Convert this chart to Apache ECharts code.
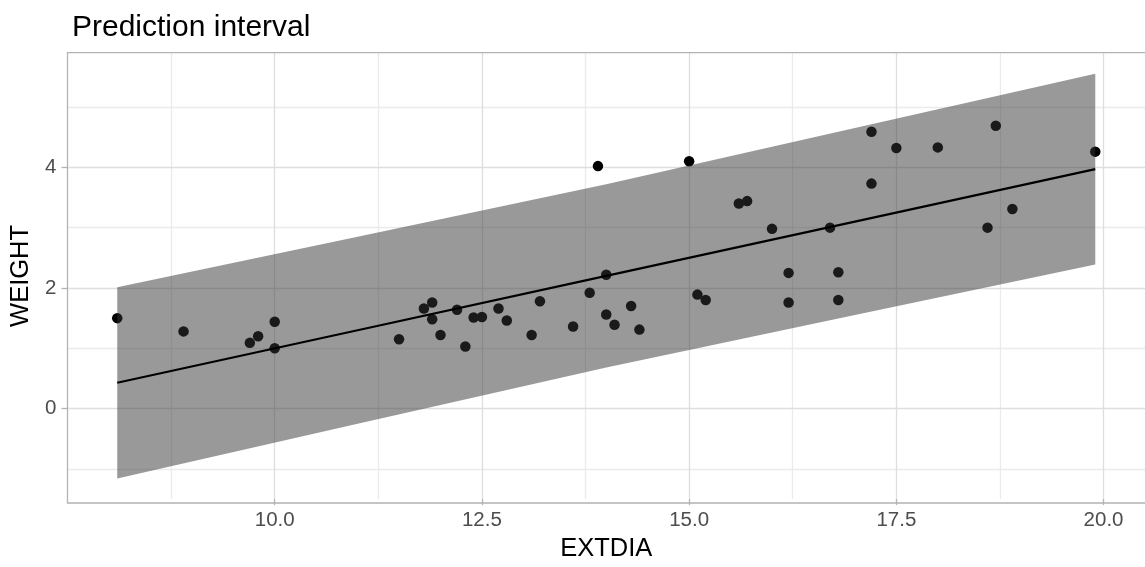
<!DOCTYPE html>
<html>
<head>
<meta charset="utf-8">
<script src="https://cdn.jsdelivr.net/npm/echarts@6/dist/echarts.min.js"></script>
<style>
html,body{margin:0;padding:0;background:#fff;}
#chart{width:1145px;height:567px;}
</style>
</head>
<body>
<div id="chart"></div>
<script>
// ---- data ----
const extdia = [8.1, 8.9, 9.7, 9.8, 10.0, 10.0, 11.5, 11.8, 11.9, 11.9, 12.0, 12.2, 12.3, 12.4,
  12.5, 12.7, 12.8, 13.1, 13.2, 13.6, 13.8, 13.9, 14.0, 14.0, 14.1, 14.3, 14.4, 15.0,
  15.1, 15.2, 15.6, 15.7, 16.0, 16.2, 16.2, 16.7, 16.8, 16.8, 17.2, 17.2,
  17.5, 18.0, 18.6, 18.7, 18.9, 19.9];
const weight = [1.50, 1.28, 1.09, 1.20, 1.44, 1.00, 1.15, 1.66, 1.76, 1.48, 1.22, 1.64, 1.03, 1.51,
  1.52, 1.66, 1.46, 1.22, 1.78, 1.36, 1.92, 4.02, 2.22, 1.56, 1.39, 1.70, 1.31, 4.10,
  1.89, 1.80, 3.40, 3.44, 2.98, 2.25, 1.76, 3.00, 2.26, 1.80, 3.73, 4.59,
  4.32, 4.33, 3.00, 4.69, 3.31, 4.26];

// fitted line and prediction band
const bandX     = [8.1, 11.0, 14.0, 17.0, 19.9];
const fitY      = [0.43, 1.30, 2.20, 3.10, 3.97];
const bandUpper = [2.01, 2.85, 3.72, 4.65, 5.55];
const bandLower = [-1.16, -0.25, 0.68, 1.55, 2.39];

const xTickValues = [10, 12.5, 15, 17.5, 20];
const xTickLabels = ['10.0', '12.5', '15.0', '17.5', '20.0'];
const yTickValues = [0, 2, 4];
const yTickLabels = ['0', '2', '4'];

const titleText = 'Prediction interval';
const xName = 'EXTDIA';
const yName = 'WEIGHT';

// ---- chart ----
const FONT = '"Liberation Sans", Arial, Helvetica, sans-serif';
const G = {left: 67.5, top: 52.7, width: 1083, height: 450.3};
const MAJOR = '#dedede', MINOR = '#ebebeb', NONE = 'rgba(0,0,0,0)', FRAME = '#b3b3b3';
const X_MIN = 7.5, X_MAX = 20.5, Y_MIN = -1.5, Y_MAX = 5.9;

const points = extdia.map((x, i) => [x, weight[i]]);
const fitData = bandX.map((x, i) => [x, fitY[i]]);

const hidden = {
  axisLine: {show: false, onZero: false},
  axisTick: {show: false},
  axisLabel: {show: false}
};

const chart = echarts.init(document.getElementById('chart'), null, {renderer: 'canvas'});
chart.setOption({
  animation: false,
  backgroundColor: '#ffffff',
  title: {
    text: titleText,
    left: 67, top: 8,
    textStyle: {fontFamily: FONT, fontSize: 30, fontWeight: 'normal', color: '#000000'}
  },
  grid: {left: G.left, top: G.top, width: G.width, height: G.height, containLabel: false},
  xAxis: [{
    type: 'value', min: X_MIN, max: X_MAX, interval: 2.5, position: 'bottom',
    name: xName, nameLocation: 'middle', nameGap: 35,
    nameTextStyle: {fontFamily: FONT, fontSize: 25.5, color: '#000000'},
    axisLine: {show: false, onZero: false},
    axisTick: {show: true, length: 6, customValues: xTickValues, lineStyle: {color: FRAME, width: 1.3}},
    axisLabel: {
      customValues: xTickValues, margin: 11,
      fontFamily: FONT, fontSize: 20.5, color: '#4d4d4d',
      formatter: v => { const k = xTickValues.indexOf(v); return k >= 0 ? xTickLabels[k] : ''; }
    },
    splitLine: {show: true, lineStyle: {color: MAJOR, width: 1.3}},
    z: 1
  }, Object.assign({
    type: 'value', min: X_MIN, max: X_MAX, interval: 1.25, position: 'bottom',
    splitLine: {show: true, lineStyle: {color: [NONE, MINOR], width: 1.3}},
    z: 0
  }, hidden)],
  yAxis: [{
    type: 'value', min: Y_MIN, max: Y_MAX, interval: 0.5, position: 'left',
    name: yName, nameLocation: 'middle', nameGap: 25, nameRotate: 90,
    nameTextStyle: {fontFamily: FONT, fontSize: 25.5, color: '#000000'},
    axisLine: {show: false, onZero: false},
    axisTick: {show: true, length: 6, customValues: yTickValues, lineStyle: {color: FRAME, width: 1.3}},
    axisLabel: {
      customValues: yTickValues, margin: 11,
      fontFamily: FONT, fontSize: 20.5, color: '#4d4d4d',
      formatter: v => { const k = yTickValues.indexOf(v); return k >= 0 ? yTickLabels[k] : ''; }
    },
    splitLine: {show: true, lineStyle: {color: MAJOR, width: 1.3}},
    z: 1
  }, Object.assign({
    type: 'value', min: Y_MIN, max: Y_MAX, interval: 0.5, position: 'left',
    splitLine: {show: true, lineStyle: {color: [NONE, MINOR, NONE, NONE], width: 1.3}},
    z: 0
  }, hidden)],
  series: [
    {
      type: 'scatter', data: points, symbol: 'circle', symbolSize: 10.5,
      itemStyle: {color: '#000000', opacity: 1}, z: 2, silent: true
    },
    {
      type: 'custom', z: 3, silent: true, clip: true,
      data: [[bandX[0], bandLower[0]]],
      renderItem: function (params, api) {
        const pts = [];
        for (let i = 0; i < bandX.length; i++) pts.push(api.coord([bandX[i], bandUpper[i]]));
        for (let i = bandX.length - 1; i >= 0; i--) pts.push(api.coord([bandX[i], bandLower[i]]));
        return {type: 'polygon', shape: {points: pts}, style: {fill: 'rgba(51,51,51,0.5)', stroke: null}};
      }
    },
    {
      type: 'line', data: fitData, symbol: 'none', z: 4, silent: true,
      lineStyle: {color: '#000000', width: 2.1}
    }
  ],
  graphic: [{
    type: 'rect', z: 100, silent: true,
    shape: {x: G.left, y: G.top, width: G.width, height: G.height},
    style: {fill: null, stroke: FRAME, lineWidth: 1.3}
  }]
});
</script>
</body>
</html>
